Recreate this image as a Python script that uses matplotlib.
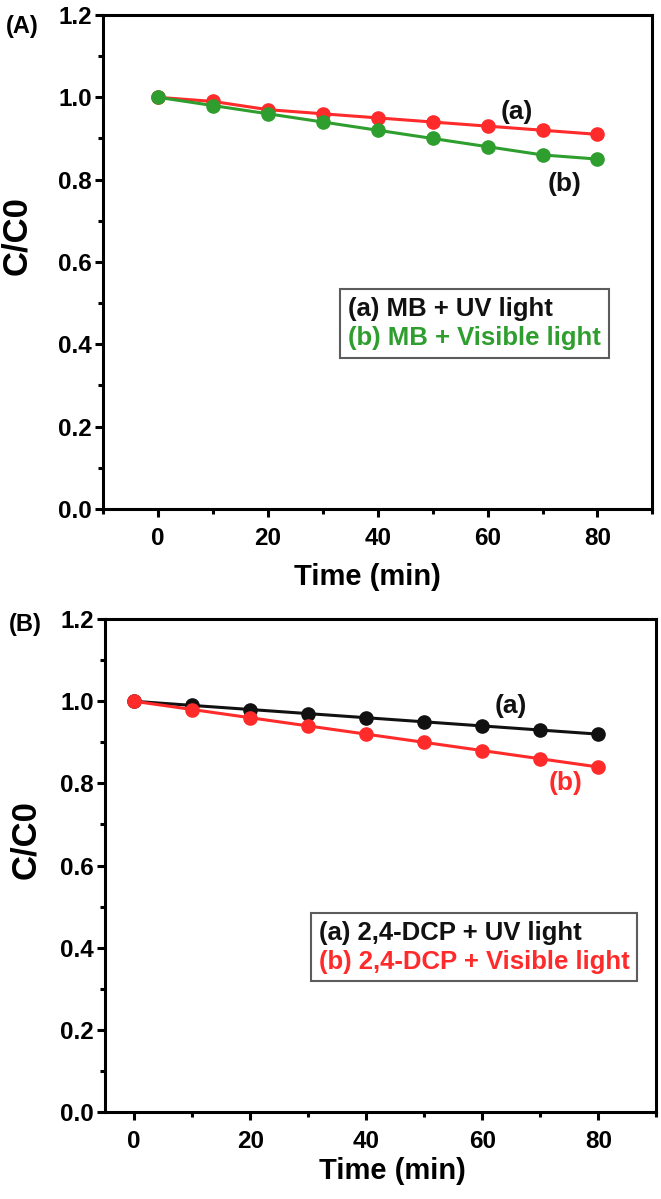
import matplotlib
matplotlib.use("Agg")
import matplotlib.pyplot as plt
from matplotlib.ticker import MultipleLocator

plt.rcParams["font.family"] = ["Liberation Sans", "DejaVu Sans"]
plt.rcParams["font.weight"] = "bold"

time_min = [0, 10, 20, 30, 40, 50, 60, 70, 80]

# panel A: methylene blue
mb_uv = [1.00, 0.99, 0.97, 0.96, 0.95, 0.94, 0.93, 0.92, 0.91]
mb_vis = [1.00, 0.98, 0.96, 0.94, 0.92, 0.90, 0.88, 0.86, 0.85]

# panel B: 2,4-DCP
dcp_uv = [1.00, 0.99, 0.98, 0.97, 0.96, 0.95, 0.94, 0.93, 0.92]
dcp_vis = [1.00, 0.98, 0.96, 0.94, 0.92, 0.90, 0.88, 0.86, 0.84]

RED = "#ff2a2a"
GREEN = "#2e9e2e"
BLACK = "#111111"


def style_axes(ax, xmin, xlab_pos, ylab_pos):
    ax.set_xlim(xmin, 90)
    ax.set_ylim(0.0, 1.2)
    ax.xaxis.set_major_locator(MultipleLocator(20))
    ax.xaxis.set_minor_locator(MultipleLocator(10))
    ax.yaxis.set_major_locator(MultipleLocator(0.2))
    ax.yaxis.set_minor_locator(MultipleLocator(0.1))
    ax.yaxis.set_major_formatter(plt.FormatStrFormatter("%.1f"))
    ax.tick_params(which="major", direction="out", length=6, width=2.2,
                   labelsize=17.5, pad=2)
    ax.tick_params(which="minor", direction="out", length=3.5, width=2.2)
    ax.tick_params(axis="x", which="major", pad=7)
    for lab in ax.get_xticklabels() + ax.get_yticklabels():
        lab.set_fontweight("bold")
    for sp in ax.spines.values():
        sp.set_linewidth(2.2)
    xl = ax.set_xlabel("Time (min)", fontsize=21, fontweight="bold")
    xl.set_va("center")
    ax.xaxis.set_label_coords(*xlab_pos)
    yl = ax.set_ylabel("C/C0", fontsize=25, fontweight="bold")
    yl.set_va("center")
    ax.yaxis.set_label_coords(*ylab_pos)


def draw_series(ax, y, color):
    ax.plot(time_min, y, color=color, linewidth=2.2, marker="o",
            markersize=9.5, markerfacecolor=color, markeredgecolor=color)


def add_legend(ax, labels, colors, anchor):
    leg = ax.legend(
        handles=[plt.Line2D([], [], linestyle="none") for _ in labels],
        labels=labels, loc="upper left", bbox_to_anchor=anchor,
        frameon=True, fancybox=False, edgecolor="#333333",
        handlelength=0, handletextpad=0, borderpad=0.3, labelspacing=0.2,
        borderaxespad=0, prop={"size": 18.5, "weight": "bold"},
    )
    leg.get_frame().set_linewidth(1.5)
    for txt, c in zip(leg.get_texts(), colors):
        txt.set_color(c)
    return leg


fig = plt.figure(figsize=(6.61, 11.99), dpi=100)

# ---- panel A ----
axA = fig.add_axes([0.156, 0.5755, 0.831, 0.412])
draw_series(axA, mb_uv, RED)
draw_series(axA, mb_vis, GREEN)
style_axes(axA, -10, (0.481, -0.138), (-0.158, 0.553))
axA.text(65.3, 0.965, "(a)", fontsize=19, fontweight="bold", color=BLACK,
         ha="center", va="center")
axA.text(74, 0.79, "(b)", fontsize=19, fontweight="bold", color=BLACK,
         ha="center", va="center")
add_legend(axA, ["(a) MB + UV light", "(b) MB + Visible light"],
           [BLACK, GREEN], (0.432, 0.445))
fig.text(0.033, 0.978, "(A)", fontsize=17, fontweight="bold",
         ha="center", va="center")

# ---- panel B ----
axB = fig.add_axes([0.159, 0.0726, 0.834, 0.411])
draw_series(axB, dcp_uv, BLACK)
draw_series(axB, dcp_vis, RED)
style_axes(axB, -5, (0.521, -0.120), (-0.145, 0.552))
axB.text(64.9, 0.989, "(a)", fontsize=19, fontweight="bold", color=BLACK,
         ha="center", va="center")
axB.text(74.4, 0.80, "(b)", fontsize=19, fontweight="bold", color=RED,
         ha="center", va="center")
add_legend(axB, ["(a) 2,4-DCP + UV light", "(b) 2,4-DCP + Visible light"],
           [BLACK, RED], (0.374, 0.404))
fig.text(0.038, 0.4795, "(B)", fontsize=17, fontweight="bold",
         ha="center", va="center")

fig.savefig("out.png", dpi=100)
